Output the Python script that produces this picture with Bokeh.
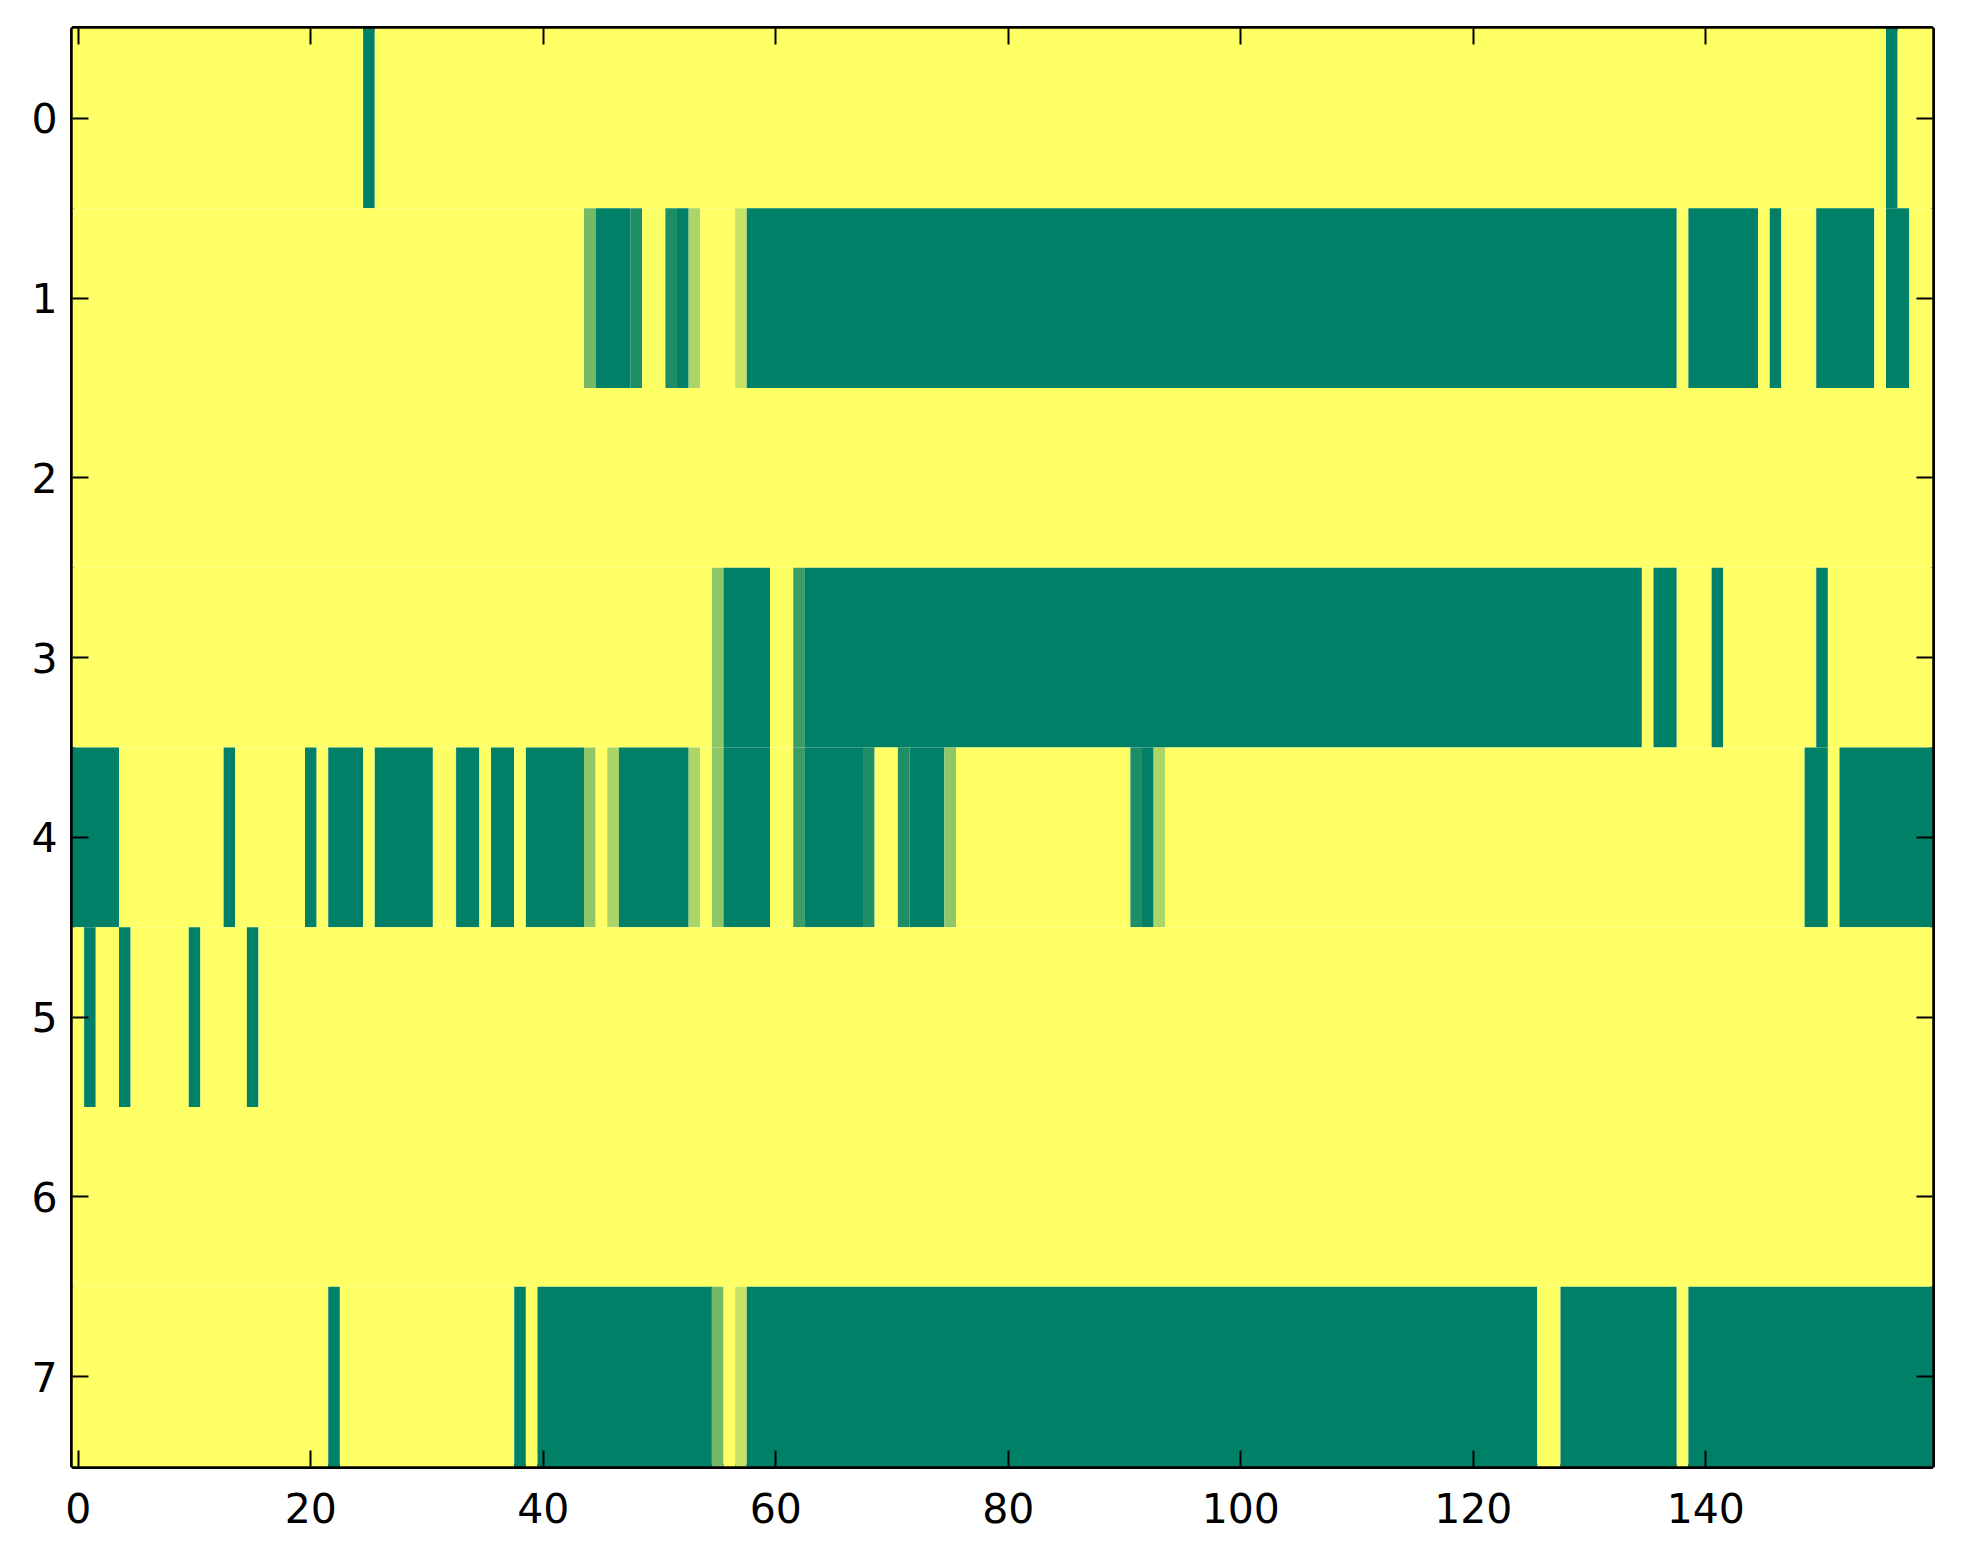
from bokeh.plotting import figure
from bokeh.models import Range1d, LinearAxis, FixedTicker, ColumnDataSource, LinearColorMapper
from bokeh.embed import file_html
from bokeh.resources import INLINE

# Run-length encoded rows: (value, number of columns); 0 = green, 1 = yellow
row0 = [(1, 25), (0, 1), (1, 130), (0, 1), (1, 3)]
row1 = [(1, 44), (0.45, 1), (0, 3), (0.12, 1), (1, 2), (0.12, 1), (0, 1), (0.67, 1),
        (1, 3), (0.78, 1), (0, 80), (1, 1), (0, 6), (1, 1), (0, 1), (1, 3), (0, 5),
        (1, 1), (0, 2), (1, 2)]
row2 = [(1, 160)]
row3 = [(1, 55), (0.56, 1), (0, 4), (1, 2), (0.23, 1), (0, 72), (1, 1), (0, 2),
        (1, 3), (0, 1), (1, 8), (0, 1), (1, 9)]
row4 = [(0, 4), (1, 9), (0, 1), (1, 6), (0, 1), (1, 1), (0, 3), (1, 1), (0, 5),
        (1, 2), (0, 2), (1, 1), (0, 2), (1, 1), (0, 5), (0.56, 1), (1, 1), (0.67, 1),
        (0, 6), (0.67, 1), (1, 1), (0.56, 1), (0, 4), (1, 2), (0.23, 1), (0, 5),
        (0.12, 1), (1, 2), (0.12, 1), (0, 3), (0.56, 1), (1, 15), (0.12, 1), (0, 1),
        (0.67, 1), (1, 55), (0, 2), (1, 1), (0, 8)]
row5 = [(1, 1), (0, 1), (1, 2), (0, 1), (1, 5), (0, 1), (1, 4), (0, 1), (1, 144)]
row6 = [(1, 160)]
row7 = [(1, 22), (0, 1), (1, 15), (0, 1), (1, 1), (0, 15), (0.45, 1), (1, 1),
        (0.78, 1), (0, 68), (1, 2), (0, 10), (1, 1), (0, 21)]
rows = [row0, row1, row2, row3, row4, row5, row6, row7]

x_ticks = [0, 20, 40, 60, 80, 100, 120, 140]
y_ticks = [0, 1, 2, 3, 4, 5, 6, 7]

# "summer" colormap
palette = []
for i in range(256):
    t = i / 255
    palette.append("#%02x%02x%02x" % (round(255 * t), round(255 * (0.5 + 0.5 * t)), round(255 * 0.4)))

left, right, top, bottom, val = [], [], [], [], []
for r, runs in enumerate(rows):
    c = 0
    for v, n in runs:
        left.append(c - 0.5)
        right.append(c + n - 0.5)
        top.append(r - 0.5)
        bottom.append(r + 0.5)
        val.append(v)
        c += n

src = ColumnDataSource(dict(left=left, right=right, top=top, bottom=bottom, v=val))
mapper = LinearColorMapper(palette=palette, low=0, high=1)

p = figure(width=1952, height=1547, output_backend="svg", toolbar_location=None,
           x_range=Range1d(-0.5, 159.5), y_range=Range1d(7.5, -0.5),
           min_border_left=72, min_border_right=20, min_border_top=28, min_border_bottom=81)
p.quad(left="left", right="right", top="top", bottom="bottom", source=src,
       fill_color={"field": "v", "transform": mapper}, line_color=None)

p.grid.visible = False
p.outline_line_color = "black"
p.outline_line_width = 5
p.background_fill_color = "white"

font = "DejaVu Sans"
for ax, ticks in ((p.xaxis[0], x_ticks), (p.yaxis[0], y_ticks)):
    ax.ticker = FixedTicker(ticks=ticks)
    ax.axis_line_color = None
    ax.major_tick_in = 16
    ax.major_tick_out = 0
    ax.major_tick_line_width = 2
    ax.minor_tick_line_color = None
    ax.major_label_text_font = font
    ax.major_label_text_font_size = "41px"
    ax.major_label_text_color = "black"
p.xaxis[0].major_label_standoff = 26
p.yaxis[0].major_label_standoff = 15

top_ax = LinearAxis(ticker=FixedTicker(ticks=x_ticks))
right_ax = LinearAxis(ticker=FixedTicker(ticks=y_ticks))
for ax in (top_ax, right_ax):
    ax.axis_line_color = None
    ax.major_tick_in = 16
    ax.major_tick_out = 0
    ax.major_tick_line_width = 2
    ax.minor_tick_line_color = None
    ax.major_label_text_font_size = "0px"
    ax.major_label_standoff = 0
    ax.major_label_text_color = None
p.add_layout(top_ax, "above")
p.add_layout(right_ax, "right")

open("out.html", "w").write(file_html(p, INLINE))
